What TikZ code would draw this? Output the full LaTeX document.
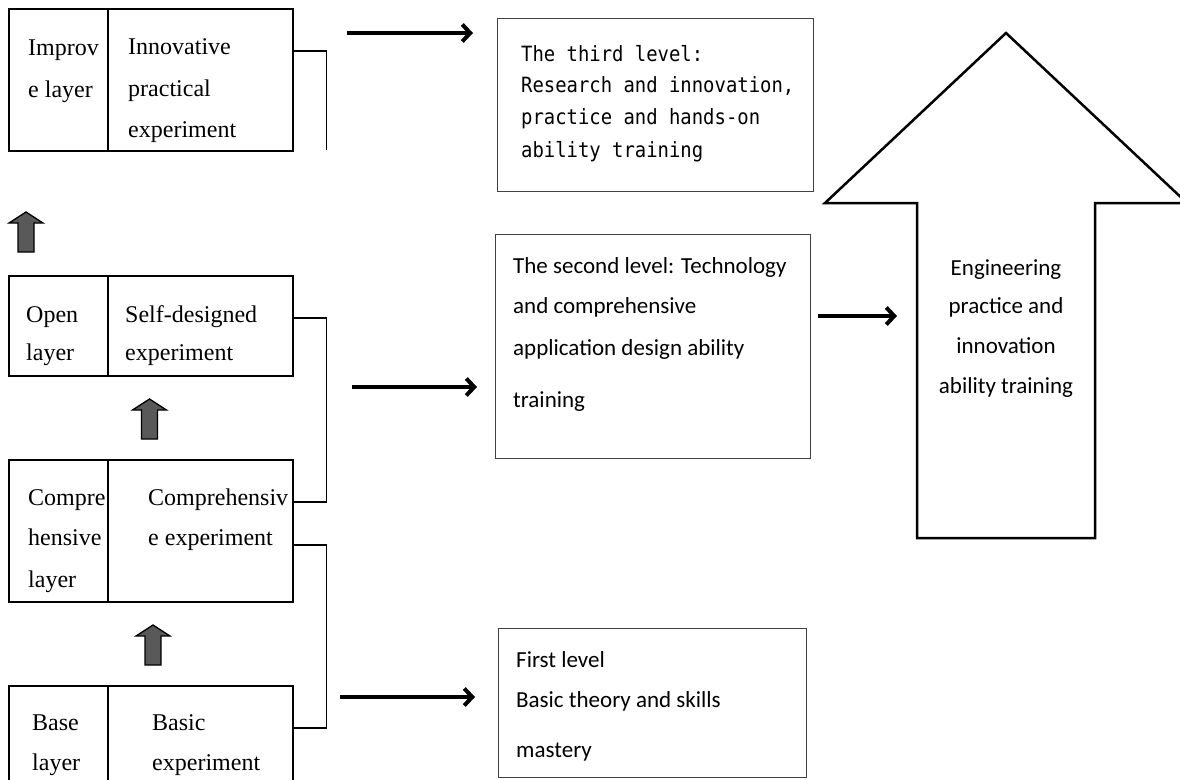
\documentclass[tikz,border=0pt]{standalone}
\usepackage{fontspec}
\setmainfont{Liberation Serif}
\newfontfamily\calf{Carlito}
\newfontfamily\monof{DejaVu Sans Mono}[FakeStretch=0.9]
\usetikzlibrary{arrows.meta,calc}
\tikzset{
  cell/.style={draw, line width=1.5pt, anchor=north west, inner sep=0pt},
  tbox/.style={draw=black!75, line width=1.3pt, anchor=north west, inner sep=0pt},
  serif/.style={anchor=base west, inner sep=0pt, font=\fontsize{24}{28}\selectfont},
  calt/.style={anchor=base west, inner sep=0pt, font=\calf\fontsize{23}{27}\selectfont},
  calc/.style={anchor=base, inner sep=0pt, font=\calf\fontsize{23}{27}\selectfont},
  monot/.style={anchor=base west, inner sep=0pt, font=\monof\fontsize{21}{25}\selectfont},
  conn/.style={line width=1.5pt},
  bigarr/.style={-{Straight Barb[length=8pt,width=17pt]}, line width=4pt},
  garrow/.style={fill=black!65, draw=black, line width=1.3pt, line join=miter},
  uparr/.pic={\draw[garrow] (-8,0) -- (-8,-29) -- (-17,-29) -- (0,-40) -- (17,-29) -- (8,-29) -- (8,0) -- cycle;}
}
\begin{document}
\begin{tikzpicture}[x=1pt,y=-1pt]
\useasboundingbox (0,0) rectangle (1180,779);
\clip (0,0) rectangle (1180,779);
\fill[white] (0,0) rectangle (1180,779);

% left layer boxes
\node[cell, minimum width=99pt, minimum height=142pt] (impL) at (8,8) {};
\node[cell, minimum width=185pt, minimum height=142pt] (impR) at (107,8) {};
\node[cell, minimum width=99pt, minimum height=100pt] (openL) at (8,275) {};
\node[cell, minimum width=185pt, minimum height=100pt] (openR) at (107,275) {};
\node[cell, minimum width=99pt, minimum height=142pt] (compL) at (8,459) {};
\node[cell, minimum width=185pt, minimum height=142pt] (compR) at (107,459) {};
\node[cell, minimum width=99pt, minimum height=110pt] (baseL) at (8,685) {};
\node[cell, minimum width=185pt, minimum height=110pt] (baseR) at (107,685) {};

% texts of left boxes
\node[serif] (t1a) at (28,55) {Improv};
\node[serif] (t1b) at (28,97) {e layer};
\node[serif] (t1c) at (128,54) {Innovative};
\node[serif] (t1d) at (128,96) {practical};
\node[serif] (t1e) at (128,137) {experiment};

\node[serif] (t2a) at (26,322) {Open};
\node[serif] (t2b) at (26,360) {layer};
\node[serif] (t2c) at (125,322) {Self-designed};
\node[serif] (t2d) at (125,360) {experiment};

\node[serif] (t3a) at (28,505) {Compre};
\node[serif] (t3b) at (28,545) {hensive};
\node[serif] (t3c) at (28,587) {layer};
\node[serif] (t3d) at (148,505) {Comprehensiv};
\node[serif] (t3e) at (148,545) {e experiment};

\node[serif] (t4a) at (32,730) {Base};
\node[serif] (t4b) at (32,770) {layer};
\node[serif] (t4c) at (152,730) {Basic};
\node[serif] (t4d) at (152,770) {experiment};

% gray up arrows
\pic at (26,252) {uparr};
\pic at (149.5,439) {uparr};
\pic at (153,665) {uparr};

% brackets
\draw[conn] ([yshift=-43pt]impR.north east) -| ([xshift=33pt,yshift=2pt]impR.south east);
\draw[conn] ([yshift=-43pt]openR.north east) -- ++(33,0) |- ([yshift=-43pt]compR.north east);
\draw[conn] ([yshift=-86pt]compR.north east) -- ++(33,0) |- ([yshift=-43pt]baseR.north east);

% right text boxes
\node[tbox, minimum width=316pt, minimum height=173pt] (third) at (497,18) {};
\node[monot] (m1) at (521,61) {The third level:};
\node[monot] (m2) at (521,92) {Research and innovation,};
\node[monot] (m3) at (521,124) {practice and hands-on};
\node[monot] (m4) at (521,157) {ability training};

\node[tbox, minimum width=315pt, minimum height=224pt] (second) at (495,234) {};
\node[calt] (s1) at (513,273) {The second level: Technology};
\node[calt] (s2) at (513,313) {and comprehensive};
\node[calt] (s3) at (513,355) {application design ability};
\node[calt] (s4) at (513,407) {training};

\node[tbox, minimum width=308pt, minimum height=149pt] (first) at (498,628) {};
\node[calt] (f1) at (516,667) {First level};
\node[calt] (f2) at (516,707) {Basic theory and skills};
\node[calt] (f3) at (516,757) {mastery};

% big arrow
\coordinate (bigTip) at (1006,33);
\coordinate (bigL) at (917,316);
\draw[line width=2.5pt, line join=miter] (917,538) -- (917,203) -- (825,203) -- (bigTip) -- (1187,203) -- (1095,203) -- (1095,538) -- cycle;
\node[calc] (e1) at (1006,275) {Engineering};
\node[calc] (e2) at (1006,313) {practice and};
\node[calc] (e3) at (1006,353) {innovation};
\node[calc] (e4) at (1006,393) {ability training};

% arrows
\coordinate (a3s) at (347,33);
\coordinate (a3e) at (473,33);
\coordinate (a2s) at (352,387);
\coordinate (a2e) at (477,387);
\coordinate (a1s) at (340,697);
\coordinate (a1e) at (475,697);
\draw[bigarr] (a3s) -- (a3e);
\draw[bigarr] (a2s) -- (a2e);
\draw[bigarr] (a1s) -- (a1e);
\draw[bigarr, shorten <=7pt, shorten >=20pt] (second.east |- bigL) -- (bigL);
\end{tikzpicture}
\end{document}
